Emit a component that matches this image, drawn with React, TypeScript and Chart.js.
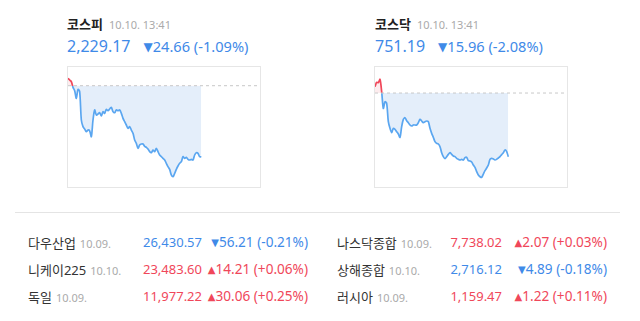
import React, { useEffect, useRef } from "react";
import { Chart, registerables } from "chart.js";

Chart.register(...registerables);

const BLUE = "#3f8ae8";
const RED = "#f0475a";
const FONT = "'Noto Sans', 'Noto Sans CJK KR', sans-serif";

// KOSPI intraday, evenly spaced samples
const kospiValues = [
  2256.39, 2255.81, 2255.23, 2253.26, 2252.11, 2249.44, 2252.57, 2251.76, 2241.92, 2239.61,
  2238.8, 2237.88, 2238.45, 2238.11, 2236.14, 2241.92, 2245.4, 2243.66, 2244.01, 2244.47,
  2243.31, 2244.82, 2244.24, 2245.63, 2245.16, 2245.74, 2246.32, 2244.82, 2244.47, 2245.4,
  2245.16, 2245.4, 2244.24, 2242.5, 2241.35, 2240.19, 2239.03, 2239.61, 2238.45, 2237.3,
  2234.98, 2233.83, 2232.09, 2233.25, 2233.59, 2233.59, 2232.79, 2232.44, 2231.86, 2230.93,
  2230.59, 2231.51, 2230.93, 2232.09, 2230.93, 2229.77, 2229.2, 2228.62, 2228.04, 2226.88,
  2225.73, 2224.8, 2222.83, 2222.25, 2223.41, 2224.8, 2225.96, 2226.88, 2227.46, 2229.2,
  2228.62, 2228.97, 2228.27, 2228.04, 2228.27, 2228.04, 2229.77, 2230.59, 2230.35, 2229.2,
  2229.17,
];
const kospiPrevClose = 2253.83;
const kospiRange = [2218.67, 2260.32];

// KOSDAQ intraday, evenly spaced samples
const kosdaqValues = [
  768.74, 769.83, 769.74, 770.58, 767.49, 763.31, 764.98, 764.57, 759.97, 758.3,
  757.22, 758.3, 758.05, 757.47, 756.88, 756.05, 758.72, 760.56, 760.97, 760.22,
  759.72, 759.14, 758.89, 759.14, 759.14, 759.14, 759.72, 760.56, 760.14, 759.72,
  759.97, 760.14, 759.97, 758.3, 757.05, 756.05, 754.96, 754.55, 754.38, 753.71,
  752.21, 751.21, 750.7, 751.21, 751.79, 752.21, 751.79, 751.37, 751.21, 750.79,
  750.54, 750.37, 750.54, 750.37, 750.96, 751.04, 750.2, 750.12, 749.87, 749.12,
  748.53, 747.45, 746.61, 746.19, 746.03, 746.86, 747.7, 748.37, 749.12, 750.54,
  750.79, 750.62, 750.37, 750.54, 750.87, 751.21, 751.71, 752.21, 752.88, 752.46,
  751.19,
];
const kosdaqPrevClose = 767.15;
const kosdaqRange = [743.61, 773.67];

// number of sample slots across a full session
const sessionSlots = 115.2;

// header quotes
const headerNames = ["코스피", "코스닥"];
const headerTimes = ["10.10. 13:41", "10.10. 13:41"];
const headerCloses = [2229.17, 751.19];
const headerChanges = [-24.66, -15.96];
const headerRates = [-1.09, -2.08];

// world indices
const worldNames = ["다우산업", "니케이225", "독일", "나스닥종합", "상해종합", "러시아"];
const worldDates = ["10.09.", "10.10.", "10.09.", "10.09.", "10.10.", "10.09."];
const worldValues = [26430.57, 23483.6, 11977.22, 7738.02, 2716.12, 1159.47];
const worldChanges = [-56.21, 14.21, 30.06, 2.07, -4.89, 1.22];
const worldRates = [-0.21, 0.06, 0.25, 0.03, -0.18, 0.11];

const fmt = (v: number) =>
  v.toLocaleString("en-US", { minimumFractionDigits: 2, maximumFractionDigits: 2 });
const fmtRate = (r: number) => `(${r >= 0 ? "+" : "-"}${Math.abs(r).toFixed(2)}%)`;

type MiniProps = {
  values: number[];
  base: number;
  range: number[];
  left: number;
  top: number;
};

function MiniChart({ values, base, range, left, top }: MiniProps) {
  const ref = useRef<HTMLCanvasElement>(null);

  useEffect(() => {
    if (!ref.current) return;
    const chart = new Chart(ref.current, {
      type: "line",
      data: {
        datasets: [
          {
            data: [
              { x: 0, y: base },
              { x: sessionSlots, y: base },
            ],
            borderColor: "#c8c8c8",
            borderDash: [3, 3],
            borderWidth: 1,
            pointRadius: 0,
            fill: false,
          },
          {
            data: values.map((y, i) => ({ x: i, y })),
            borderColor: (ctx: any) => {
              const c = ctx.chart;
              const area = c.chartArea;
              if (!area) return BLUE;
              const yb = c.scales.y.getPixelForValue(base);
              let f = (yb - area.top) / (area.bottom - area.top);
              f = Math.min(1, Math.max(0, f));
              const g = c.ctx.createLinearGradient(0, area.top, 0, area.bottom);
              g.addColorStop(0, RED);
              g.addColorStop(f, RED);
              g.addColorStop(f, "#5aa6f0");
              g.addColorStop(1, "#5aa6f0");
              return g;
            },
            borderWidth: 1.7,
            pointRadius: 0,
            tension: 0.3,
            fill: {
              target: { value: base },
              above: "rgba(240,71,90,0.10)",
              below: "#e4eefa",
            },
          },
        ],
      },
      options: {
        animation: false,
        responsive: false,
        events: [],
        layout: { padding: 0 },
        plugins: {
          legend: { display: false },
          tooltip: { enabled: false },
        },
        scales: {
          x: { type: "linear", display: false, min: 0, max: sessionSlots },
          y: { display: false, min: range[0], max: range[1] },
        },
      },
    } as any);
    return () => chart.destroy();
  }, []);

  return (
    <div
      style={{
        position: "absolute",
        left,
        top,
        width: 192,
        height: 120,
        border: "1px solid #e6e6e6",
      }}
    >
      <canvas ref={ref} width={192} height={120} style={{ display: "block" }} />
    </div>
  );
}

function Arrow({ up, size }: { up: boolean; size: number }) {
  return (
    <span style={{ fontFamily: "'DejaVu Sans'", fontSize: size, verticalAlign: "1px" }}>
      {up ? "▲" : "▼"}
    </span>
  );
}

function Header({ i, left }: { i: number; left: number }) {
  const up = headerChanges[i] >= 0;
  const color = up ? RED : BLUE;
  return (
    <>
      <div
        style={{
          position: "absolute",
          left,
          top: 13,
          height: 20,
          lineHeight: "20px",
          whiteSpace: "nowrap",
          fontFamily: FONT,
        }}
      >
        <span style={{ fontSize: 13, fontWeight: 700, color: "#222" }}>{headerNames[i]}</span>
        <span style={{ fontSize: 11, color: "#aaa", marginLeft: 6 }}>{headerTimes[i]}</span>
      </div>
      <div
        style={{
          position: "absolute",
          left,
          top: 34,
          height: 24,
          lineHeight: "24px",
          whiteSpace: "nowrap",
          fontFamily: FONT,
          color,
        }}
      >
        <span style={{ fontSize: 16 }}>{fmt(headerCloses[i])}</span>
        <span style={{ fontSize: 14.6, marginLeft: 13 }}>
          <Arrow up={up} size={12} />
          {Math.abs(headerChanges[i]).toFixed(2)} {fmtRate(headerRates[i])}
        </span>
      </div>
    </>
  );
}

function WorldRow({ i }: { i: number }) {
  const leftCol = i < 3;
  const row = i % 3;
  const centers = [242, 268.5, 295.5];
  const top = centers[row] - 10;
  const x0 = leftCol ? 28 : 337;
  const valueRight = leftCol ? 202 : 502;
  const changeRight = leftCol ? 308 : 607;
  const up = worldChanges[i] >= 0;
  const color = up ? RED : BLUE;
  const base: React.CSSProperties = {
    position: "absolute",
    top,
    height: 20,
    lineHeight: "20px",
    whiteSpace: "nowrap",
    fontFamily: FONT,
  };
  return (
    <>
      <div style={{ ...base, left: x0 }}>
        <span style={{ fontSize: 13, color: "#333" }}>{worldNames[i]}</span>
        <span style={{ fontSize: 11, color: "#aaa", marginLeft: 4 }}>{worldDates[i]}</span>
      </div>
      <div style={{ ...base, right: 640 - valueRight, fontSize: 13, color }}>
        {fmt(worldValues[i])}
      </div>
      <div style={{ ...base, right: 640 - changeRight, fontSize: 13.6, color }}>
        <Arrow up={up} size={10} />
        {Math.abs(worldChanges[i]).toFixed(2)} {fmtRate(worldRates[i])}
      </div>
    </>
  );
}

export default function App() {
  return (
    <div
      style={{
        position: "absolute",
        left: 0,
        top: 0,
        width: 640,
        height: 321,
        background: "#fff",
        overflow: "hidden",
      }}
    >
      <Header i={0} left={67} />
      <Header i={1} left={375} />
      <MiniChart values={kospiValues} base={kospiPrevClose} range={kospiRange} left={67} top={66} />
      <MiniChart values={kosdaqValues} base={kosdaqPrevClose} range={kosdaqRange} left={374} top={66} />
      <div
        style={{
          position: "absolute",
          left: 15,
          top: 212,
          width: 605,
          height: 1,
          background: "#e4e4e4",
        }}
      />
      {worldNames.map((_, i) => (
        <WorldRow key={i} i={i} />
      ))}
    </div>
  );
}
